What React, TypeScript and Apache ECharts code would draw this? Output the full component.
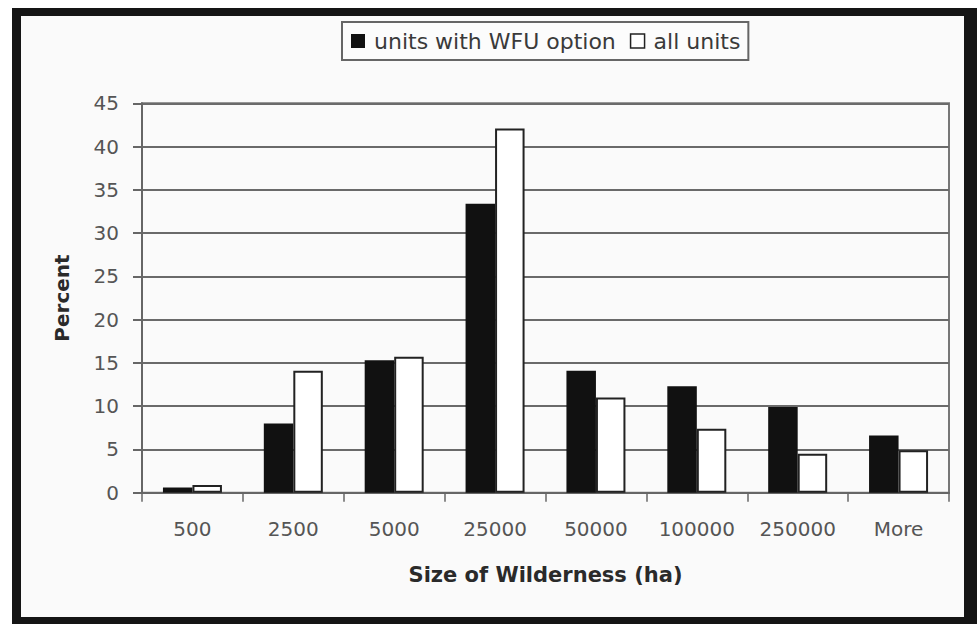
import React, { useEffect, useRef } from "react";
import * as echarts from "echarts";

const categories = ["500", "2500", "5000", "25000", "50000", "100000", "250000", "More"];
const wfuUnits = [0.6, 8.0, 15.3, 33.4, 14.1, 12.3, 9.9, 6.6];
const allUnits = [0.9, 14.1, 15.7, 42.1, 11.0, 7.4, 4.5, 4.9];
const seriesNames = ["units with WFU option", "all units"];
const yTicks = { min: 0, max: 45, interval: 5 };

export default function App() {
  const ref = useRef<HTMLDivElement>(null);
  useEffect(() => {
    if (!ref.current) return;
    const chart = echarts.init(ref.current, null, { renderer: "svg" });
    const font = "DejaVu Sans";
    chart.setOption({
      animation: false,
      backgroundColor: "#ffffff",
      graphic: [
        { type: "rect", z: -10, shape: { x: 12, y: 8, width: 970, height: 620 }, style: { fill: "#151515" }, silent: true },
        { type: "rect", z: -9, shape: { x: 21, y: 16, width: 943, height: 601 }, style: { fill: "#fafafa" }, silent: true },
      ],
      legend: {
        left: 342,
        top: 22,
        padding: [8, 8, 8, 9],
        borderColor: "#666",
        borderWidth: 2,
        backgroundColor: "#fcfcfc",
        itemWidth: 14,
        itemHeight: 14,
        itemGap: 14,
        icon: "rect",
        textStyle: { fontFamily: font, fontSize: 22, color: "#3a3a3a", padding: [0, 0, 0, 4] },
        data: [
          { name: seriesNames[0], itemStyle: { color: "#111", borderColor: "#111", borderWidth: 0 } },
          { name: seriesNames[1], itemStyle: { color: "#fff", borderColor: "#222", borderWidth: 1.5 } },
        ],
      },
      grid: {
        left: 142,
        right: 28,
        top: 103.3,
        bottom: 131.3,
        show: true,
        borderColor: "#777",
        borderWidth: 2,
        backgroundColor: "transparent",
      },
      xAxis: {
        type: "category",
        data: categories,
        name: "Size of Wilderness (ha)",
        nameLocation: "middle",
        nameGap: 72,
        nameTextStyle: { fontFamily: font, fontSize: 21, fontWeight: "bold", color: "#2a2a2a" },
        axisLine: { lineStyle: { color: "#666", width: 2 } },
        axisTick: { show: true, length: 9, lineStyle: { color: "#666", width: 1.5 } },
        axisLabel: { fontFamily: font, fontSize: 20, color: "#555", margin: 26 },
      },
      yAxis: {
        type: "value",
        min: yTicks.min,
        max: yTicks.max,
        interval: yTicks.interval,
        name: "Percent",
        nameLocation: "middle",
        nameRotate: 90,
        nameGap: 70,
        nameTextStyle: { fontFamily: font, fontSize: 20, fontWeight: "bold", color: "#2a2a2a" },
        axisLine: { show: true, lineStyle: { color: "#666", width: 2 } },
        axisTick: { show: true, length: 9, lineStyle: { color: "#666", width: 2 } },
        axisLabel: { fontFamily: font, fontSize: 20, color: "#555", margin: 23 },
        splitLine: { show: true, lineStyle: { color: "#6a6a6a", width: 2 } },
      },
      series: [
        {
          name: seriesNames[0],
          type: "bar",
          data: wfuUnits,
          barWidth: 29.5,
          barGap: "0%",
          itemStyle: { color: "#111", borderColor: "#111", borderWidth: 0 },
        },
        {
          name: seriesNames[1],
          type: "bar",
          data: allUnits,
          barWidth: 29.5,
          barGap: "0%",
          itemStyle: { color: "#ffffff", borderColor: "#222", borderWidth: 2 },
        },
      ],
    });
    return () => chart.dispose();
  }, []);
  return (
    <div
      ref={ref}
      style={{ position: "fixed", left: 0, top: 0, width: 977, height: 624 }}
    />
  );
}
